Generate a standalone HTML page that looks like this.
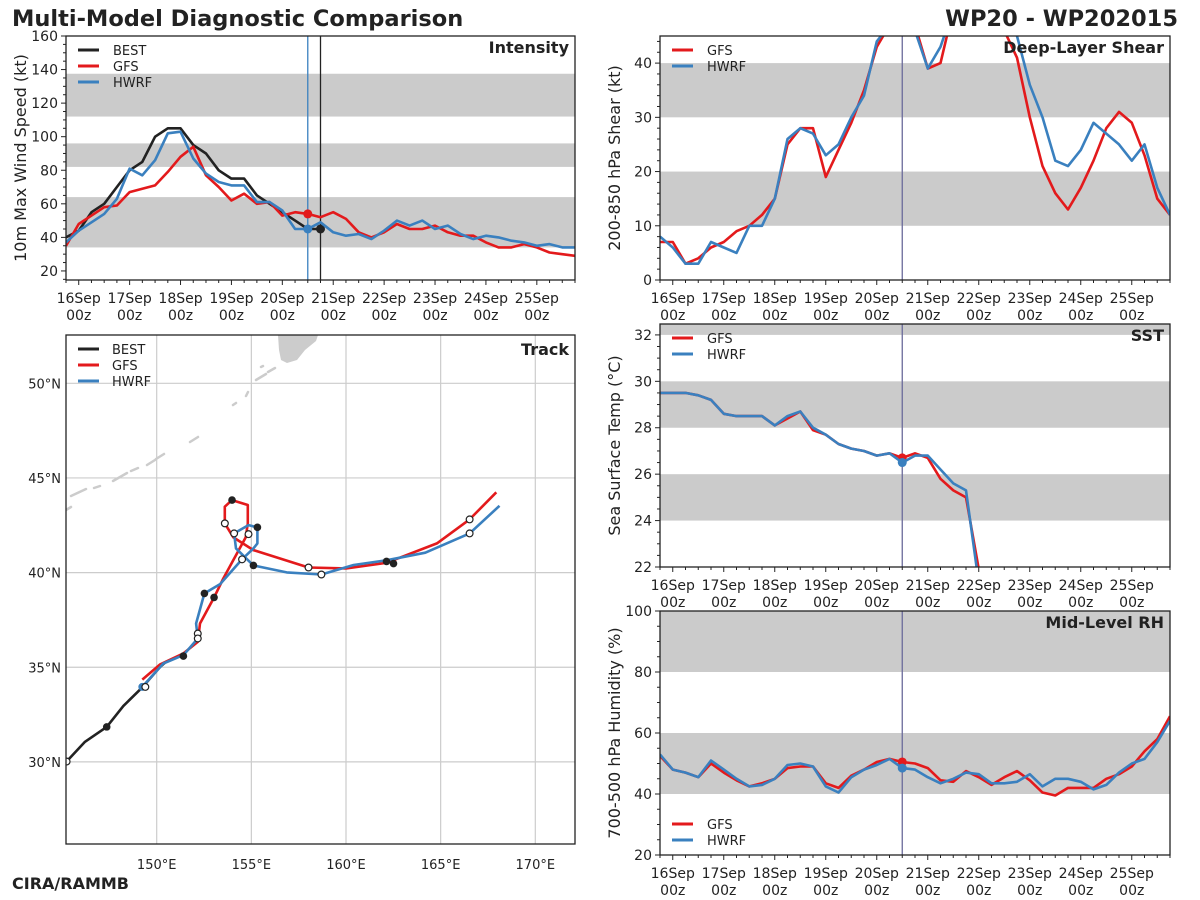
<!DOCTYPE html>
<html><head><meta charset="utf-8">
<style>
body{margin:0;background:#fff;}
svg{display:block;font-family:"DejaVu Sans","Liberation Sans",sans-serif;}
</style></head>
<body>
<svg id="chart" width="1200" height="900" viewBox="0 0 1200 900" xmlns="http://www.w3.org/2000/svg">
<rect width="1200" height="900" fill="#fff"/>
<text x="12" y="26" font-size="22.5" font-weight="bold" fill="#222">Multi-Model Diagnostic Comparison</text>
<text x="1178" y="26" font-size="22.5" font-weight="bold" fill="#222" text-anchor="end">WP20 - WP202015</text>
<text x="12" y="889" font-size="16" font-weight="bold" fill="#222">CIRA/RAMMB</text>
</svg>
<script>
// ---- time axis data (hours from 16Sep 00z, 6-hourly starting at -6h) ----
const dayLabels = ["16Sep","17Sep","18Sep","19Sep","20Sep","21Sep","22Sep","23Sep","24Sep","25Sep"];
const initHour = 108;
const bestEndHour = 114;
// Intensity (kt)
const intBest = [40,44,55,60,70,80,85,100,105,105,95,90,80,75,75,65,60,55,50,45,45];
const intGfs = [35,48,53,58,59,67,69,71,79,88,94,77,70,62,66,60,61,53,55,54,52,55,51,43,40,43,48,45,45,47,43,41,41,37,34,34,36,34,31,30,29];
const intHwrf = [37,44,49,54,63,81,77,86,102,103,87,78,73,71,71,61,61,56,45,45,49,43,41,42,39,44,50,47,50,45,47,42,39,41,40,38,37,35,36,34,34];
// Shear (kt)
const shearGfs = [7,7,3,4,6,7,9,10,12,15,25,28,28,19,24,29,35,43,47,50,47,39,40,50,54,55,52,46,41,30,21,16,13,17,22,28,31,29,23,15,12];
const shearHwrf = [8,6,3,3,7,6,5,10,10,15,26,28,27,23,25,30,34,44,47,50,46,39,43,50,54,55,54,50,45,36,30,22,21,24,29,27,25,22,25,17,12];
// SST (C)
const sstGfs = [29.5,29.5,29.5,29.4,29.2,28.6,28.5,28.5,28.5,28.1,28.4,28.7,27.9,27.7,27.3,27.1,27.0,26.8,26.9,26.7,26.9,26.7,25.8,25.3,25.0,21.9];
const sstHwrf = [29.5,29.5,29.5,29.4,29.2,28.6,28.5,28.5,28.5,28.1,28.5,28.7,28.0,27.7,27.3,27.1,27.0,26.8,26.9,26.5,26.8,26.8,26.2,25.6,25.3,21.3];
// RH (%)
const rhGfs = [52.5,48,47,45.5,50,47,44.5,42.5,43.5,45,48.5,49,49,43.5,42,46,48,50.5,51.5,50.5,50,48.5,44.5,44,47.5,45.5,43,45.5,47.5,44.5,40.5,39.5,42,42,42,45,46.5,49,54,58,65.5];
const rhHwrf = [53,48,47,45.5,51,48,45,42.5,43,45,49.5,50,49,42.5,40.5,45.5,48,49.5,51.5,48.5,48,45.5,43.5,45,47,46.5,43.5,43.5,44,46.5,42.5,45,45,44,41.5,43,47,50,51.5,57,64];
// Track (lon E, lat N)
const bestLon = [145.24,146.21,147.36,148.24,149.2,150.18,150.5];
const bestLat = [30.02,31.06,31.85,32.96,33.9,35.02,35.3];
const gfsLon = [149.24,150.18,151.41,152.17,152.29,153.03,153.52,154.7,154.81,154.81,153.98,153.6,153.6,154.05,155.11,158.02,160.0,162.14,164.8,166.53,167.94];
const gfsLat = [34.35,35.15,35.73,36.34,37.31,38.69,39.69,41.86,42.6,43.57,43.83,43.48,42.6,41.86,41.19,40.27,40.22,40.52,41.54,42.81,44.24];
const hwrfLon = [149.24,150.35,151.41,152.17,152.08,152.52,153.35,154.51,155.11,155.32,155.32,154.85,154.09,154.19,155.11,156.87,158.7,160.4,162.14,164.19,166.53,168.11];
const hwrfLat = [33.96,35.2,35.64,36.52,37.31,38.9,39.39,40.7,41.28,41.54,42.39,42.51,42.07,41.28,40.38,40.01,39.9,40.4,40.65,41.05,42.07,43.53];
const filledLon = [147.36,151.41,152.52,153.03,153.98,155.32,155.11,162.14,162.51];
const filledLat = [31.85,35.59,38.9,38.69,43.83,42.39,40.38,40.59,40.48];
const openLon = [145.24,149.4,152.17,152.17,153.6,154.09,154.85,154.51,158.02,158.7,166.53,166.53];
const openLat = [30.02,33.96,36.78,36.52,42.6,42.07,42.03,40.7,40.27,39.9,42.81,42.07];
const latTicks = [30,35,40,45,50];
const lonTicks = [150,155,160,165,170];

const NS="http://www.w3.org/2000/svg";
const svg=document.getElementById('chart');
const RED="#e31a1c", BLUE="#3a80bf", BLK="#222";
function el(tag,attrs,parent){const e=document.createElementNS(NS,tag);for(const k in attrs)e.setAttribute(k,attrs[k]);(parent||svg).appendChild(e);return e;}

function timePanel(cfg){
  const {x0,y0,w,h,ymin,ymax,major,minor,bands,title,ylabel,name}=cfg;
  const g=el('g',{});
  
  
  const X=t=>x0+(t+6)/240*w;
  const Y=v=>y0+h-(v-ymin)/(ymax-ymin)*h;
  const clipId='clip-'+name;
  const cp=el('clipPath',{id:clipId},g);el('rect',{x:x0,y:y0,width:w,height:h},cp);
  bands.forEach(b=>{
    const r=el('rect',{x:x0,y:Y(Math.min(b[1],ymax)),width:w,height:Y(b[0])-Y(Math.min(b[1],ymax)),fill:'#cbcbcb'},g);
    
    
  });
  for(let v=Math.ceil(ymin/minor)*minor;v<=ymax+1e-9;v+=minor){
    const isMaj=Math.abs(v/major-Math.round(v/major))<1e-6;
    el('line',{x1:x0-(isMaj?5:3),x2:x0,y1:Y(v),y2:Y(v),stroke:'#222','stroke-width':1},g);
    if(isMaj){const t=el('text',{x:x0-8,y:Y(v)+5,'font-size':14,'text-anchor':'end',fill:'#222'},g);t.textContent=Math.round(v);
      
      }
  }
  for(let t=-6;t<=234;t+=6){
    const isMaj=t%24===0;
    el('line',{x1:X(t),x2:X(t),y1:y0+h,y2:y0+h+(isMaj?5:3),stroke:'#222','stroke-width':1},g);
  }
  dayLabels.forEach((d,i)=>{
    const t=el('text',{x:X(i*24),y:y0+h+23,'font-size':14,'text-anchor':'middle',fill:'#222'},g);t.textContent=d;
    
    
    const t2=el('text',{x:X(i*24),y:y0+h+40,'font-size':14,'text-anchor':'middle',fill:'#222'},g);t2.textContent='00z';
  });
  const yl=el('text',{transform:`translate(${x0-40},${y0+h/2}) rotate(-90)`,'font-size':16,'text-anchor':'middle',fill:'#222'},g);yl.textContent=ylabel;
  
  
  const lg=el('g',{'clip-path':`url(#${clipId})`},g);
  (cfg.vlines||[]).forEach(v=>{el('line',{x1:X(v[0]),x2:X(v[0]),y1:y0,y2:y0+h,stroke:v[1],'stroke-width':1.3},lg);});
  cfg.series.forEach(s=>{
    const pts=s.data.map((v,i)=>X(-6+i*6).toFixed(1)+','+Y(v).toFixed(1)).join(' ');
    const pl=el('polyline',{points:pts,fill:'none',stroke:s.color,'stroke-width':2.6,'stroke-linejoin':'round'},lg);
    
    
    if(s.mark!==undefined){
      const c=el('circle',{cx:X(s.mark),cy:Y(s.data[(s.mark+6)/6]),r:4.5,fill:s.color},lg);
      
      
    }
  });
  el('rect',{x:x0,y:y0,width:w,height:h,fill:'none',stroke:'#222','stroke-width':1.3},g);
  const tt=el('text',{x:x0+w-6,y:y0+17,'font-size':16,'font-weight':'bold','text-anchor':'end',fill:'#222'},g);tt.textContent=title;
  
  
  const ly=cfg.legendY;
  cfg.series.forEach((s,i)=>{
    const yy=ly+i*16;
    el('line',{x1:x0+12,x2:x0+33,y1:yy,y2:yy,stroke:s.color,'stroke-width':3},g);
    const t=el('text',{x:x0+47,y:yy+5,'font-size':13,fill:'#222'},g);t.textContent=s.label;
    
    
  });
}

timePanel({name:'intensity',x0:66,y0:36,w:509,h:244,ymin:14.6,ymax:160,major:20,minor:5,
  bands:[[34,64],[82,96],[112,137.5]],title:'Intensity',ylabel:'10m Max Wind Speed (kt)',legendY:50,
  vlines:[[initHour,BLUE],[bestEndHour,BLK]],
  series:[{key:'best',label:'BEST',color:BLK,data:intBest,mark:114},
          {key:'gfs',label:'GFS',color:RED,data:intGfs,mark:108},
          {key:'hwrf',label:'HWRF',color:BLUE,data:intHwrf,mark:108}]});
timePanel({name:'shear',x0:660,y0:36,w:510,h:244,ymin:0,ymax:45,major:10,minor:2,
  bands:[[10,20],[30,40]],title:'Deep-Layer Shear',ylabel:'200-850 hPa Shear (kt)',legendY:50,
  vlines:[[initHour,'#6a6a9a']],
  series:[{key:'gfs',label:'GFS',color:RED,data:shearGfs},{key:'hwrf',label:'HWRF',color:BLUE,data:shearHwrf}]});
timePanel({name:'sst',x0:660,y0:324,w:510,h:243,ymin:22,ymax:32.47,major:2,minor:0.5,
  bands:[[24,26],[28,30],[32,33]],title:'SST',ylabel:'Sea Surface Temp (°C)',legendY:338,
  vlines:[[initHour,'#6a6a9a']],
  series:[{key:'gfs',label:'GFS',color:RED,data:sstGfs,mark:108},{key:'hwrf',label:'HWRF',color:BLUE,data:sstHwrf,mark:108}]});
timePanel({name:'rh',x0:660,y0:611,w:510,h:244,ymin:20,ymax:100,major:20,minor:5,
  bands:[[40,60],[80,100]],title:'Mid-Level RH',ylabel:'700-500 hPa Humidity (%)',legendY:824,
  vlines:[[initHour,'#6a6a9a']],
  series:[{key:'gfs',label:'GFS',color:RED,data:rhGfs,mark:108},{key:'hwrf',label:'HWRF',color:BLUE,data:rhHwrf,mark:108}]});

// ---- Track panel ----
(function(){
  const x0=66,y0=335,w=509,h=509;
  const LX=lon=>156.7+(lon-150)*18.93;
  const LY=lat=>383.3-(lat-50)*18.93;
  const g=el('g',{});
  
  
  const cp=el('clipPath',{id:'clip-track'},g);el('rect',{x:x0,y:y0,width:w,height:h},cp);
  const inner=el('g',{'clip-path':'url(#clip-track)'},g);
  const land=el('path',{d:'M278,335 L318,335 L316,341 L305,350 L297,360 L287,363 L281,360 L279,350 Z',fill:'#cccccc'},inner);
  
  
  [[256,380,266,374],[268,372,275,368],[261,367,263,366],[246,396,248,392],[233,405,236,403],[190,442,198,437],[147,465,155,460],[156,459,164,454],[131,471,138,468],[113,481,127,473],[94,488,100,486],[71,496,86,489],[66,510,71,507]].forEach(s=>{
    el('line',{x1:s[0],y1:s[1],x2:s[2],y2:s[3],stroke:'#cccccc','stroke-width':2.5,'stroke-linecap':'round'},inner);
  });
  latTicks.forEach(v=>{
    el('line',{x1:x0,x2:x0+w,y1:LY(v),y2:LY(v),stroke:'#cccccc','stroke-width':1.2},inner);
    const t=el('text',{x:61,y:LY(v)+5,'font-size':13,'text-anchor':'end',fill:'#222'},g);t.textContent=v+'°N';
    
    
  });
  lonTicks.forEach(v=>{
    el('line',{x1:LX(v),x2:LX(v),y1:y0,y2:y0+h,stroke:'#cccccc','stroke-width':1.2},inner);
    const t=el('text',{x:LX(v),y:869,'font-size':13,'text-anchor':'middle',fill:'#222'},g);t.textContent=v+'°E';
    
    
  });
  function line(lons,lats,color,key){
    const pts=lons.map((v,i)=>LX(v).toFixed(1)+','+LY(lats[i]).toFixed(1)).join(' ');
    const pl=el('polyline',{points:pts,fill:'none',stroke:color,'stroke-width':2.6,'stroke-linejoin':'round'},inner);
    
    
  }
  line(bestLon,bestLat,BLK,'best');
  line(gfsLon,gfsLat,RED,'gfs');
  line(hwrfLon,hwrfLat,BLUE,'hwrf');
  el('circle',{cx:LX(149.24),cy:LY(33.96),r:4,fill:BLUE},inner);
  filledLon.forEach((v,i)=>{const c=el('circle',{cx:LX(v),cy:LY(filledLat[i]),r:3.8,fill:'#222'},inner);
    
    });
  openLon.forEach((v,i)=>{const c=el('circle',{cx:LX(v),cy:LY(openLat[i]),r:3.4,fill:'#fff',stroke:'#222','stroke-width':1.2},inner);
    
    });
  el('rect',{x:x0,y:y0,width:w,height:h,fill:'none',stroke:'#222','stroke-width':1.3},g);
  const tt=el('text',{x:x0+w-6,y:y0+20,'font-size':16,'font-weight':'bold','text-anchor':'end',fill:'#222'},g);tt.textContent='Track';
  
  
  [['best','BEST',BLK],['gfs','GFS',RED],['hwrf','HWRF',BLUE]].forEach((s,i)=>{
    const yy=349+i*16;
    el('line',{x1:78,x2:99,y1:yy,y2:yy,stroke:s[2],'stroke-width':3},g);
    const t=el('text',{x:112,y:yy+5,'font-size':13,fill:'#222'},g);t.textContent=s[1];
    
    
  });
})();
</script>
</body></html>
